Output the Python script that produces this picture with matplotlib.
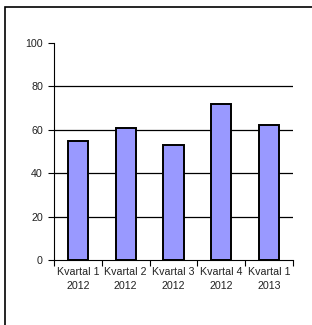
import matplotlib.pyplot as plt
from matplotlib.patches import Rectangle
import numpy as np

plt.rcParams['font.family'] = ['Liberation Sans', 'DejaVu Sans']
plt.rcParams['font.size'] = 7.7

categories = ['Kvartal 1\n2012', 'Kvartal 2\n2012', 'Kvartal 3\n2012',
              'Kvartal 4\n2012', 'Kvartal 1\n2013']
values = [55, 61, 53, 72, 62]
yticks = [0, 20, 40, 60, 80, 100]

W, H = 312, 325
fig = plt.figure(figsize=(W / 100, H / 100), dpi=100)

# outer frame (only left and top edges are visible in the crop)
fig.patches.append(Rectangle((5 / W, -0.1), 1.2, 1 - 7 / H + 0.1,
                             transform=fig.transFigure, fill=False,
                             edgecolor='black', linewidth=1.2))

ax = fig.add_axes([54 / W, 1 - 260 / H, (293 - 54) / W, (260 - 43) / H])
x = np.arange(len(values))
ax.bar(x, values, width=0.42, color='#9999ff', edgecolor='black',
       linewidth=1.4, zorder=3)

ax.set_xlim(-0.5, len(values) - 0.5)
ax.set_ylim(0, 100)
ax.set_yticks(yticks)
for v in yticks[1:-1]:
    ax.axhline(v, color='black', linewidth=0.9, zorder=1)

ax.set_xticks(x)
ax.set_xticklabels(categories, color='#222222', linespacing=1.45)
ax.tick_params(axis='x', length=0, pad=5)
ax.set_xticks(np.arange(len(values) + 1) - 0.5, minor=True)
ax.tick_params(axis='x', which='minor', length=4, width=0.8)
ax.tick_params(axis='y', length=4, width=0.8, pad=4, labelcolor='#222222')

for s in ['top', 'right']:
    ax.spines[s].set_visible(False)
ax.spines['left'].set_linewidth(0.8)
ax.spines['bottom'].set_linewidth(0.8)

fig.savefig('out.png', dpi=100)
